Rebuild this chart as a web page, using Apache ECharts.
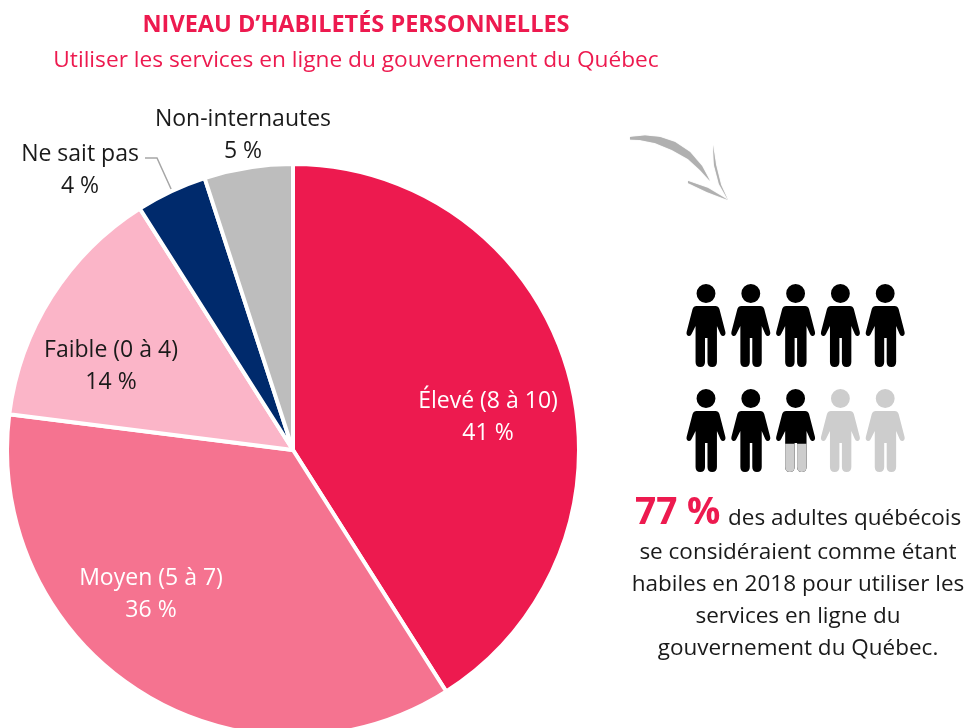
<!DOCTYPE html>
<html>
<head>
<meta charset="utf-8">
<title>Niveau d'habiletés personnelles</title>
<script src="https://cdn.jsdelivr.net/npm/echarts@6/dist/echarts.min.js"></script>
<style>
    html, body { margin: 0; padding: 0; background: #fff; overflow: hidden; }
    #chart { width: 967px; height: 728px; }
</style>
</head>
<body>
<div id="chart"></div>
<script>
const categories = ['Élevé (8 à 10)', 'Moyen (5 à 7)', 'Faible (0 à 4)', 'Ne sait pas', 'Non-internautes'];
const values = [41, 36, 14, 4, 5];
const sliceColors = ['#ed1a4f', '#f57390', '#fbb5c8', '#002a6c', '#bdbdbd'];
const labelColors = ['#fff', '#fff', '#1a1a1a', '#1a1a1a', '#1a1a1a'];
const labelCenters = [[488, 417], [151, 594], [111, 366], [80, 170], [243, 135]];

// pictogram: black figures, grey laid over them and filled from the feet up
const peopleSlots = ['1', '2', '3', '4', '5'];
const peopleRowOne = [1, 1, 1, 1, 1];
const peopleRowTwo = [1, 1, 1, null, null];
const peopleGreyRowTwo = [null, null, 0.34, 1, 1];

const pink = '#ed1a4f';
const font = '"Open Sans", sans-serif';
const personPath = 'path://M19.5 0A9.5 9.5 0 1 1 19.5 19A9.5 9.5 0 1 1 19.5 0Z' +
    'M10 22H29Q32 22 33 25L39 48Q39.6 51 37 52Q35 52.5 34 50L30.5 42V78Q30.5 83 25.7 83Q21 83 21 78V54H18.5V78Q18.5 83 13.7 83Q9 83 9 78V42L5 50Q4 52.5 2 52Q-0.6 51 0 48L6 25Q7 22 10 22Z';

function personSeries(name, data, color, gridIndex) {
    return {
        name: name,
        type: 'pictorialBar',
        xAxisIndex: gridIndex,
        yAxisIndex: gridIndex,
        silent: true,
        symbol: personPath,
        symbolSize: [39, 83],
        symbolPosition: 'start',
        symbolClip: true,
        symbolBoundingData: 1,
        barWidth: 40,
        itemStyle: { color: color },
        data: data
    };
}

function textLine(x, y, text, size) {
    return {
        type: 'text',
        x: x,
        y: y,
        style: {
            text: text,
            fill: '#1a1a1a',
            font: size + 'px ' + font,
            textAlign: 'center',
            textVerticalAlign: 'middle'
        }
    };
}

function arrowStroke(points) {
    return {
        type: 'polygon',
        shape: { points: points },
        style: { fill: '#b0b0b0', shadowBlur: 1, shadowColor: '#ccc' }
    };
}

const chart = echarts.init(document.getElementById('chart'));
chart.setOption({
    animation: false,
    title: [
        {
            text: 'NIVEAU D’HABILETÉS PERSONNELLES',
            left: 351,
            top: 8,
            textAlign: 'center',
            textStyle: { color: pink, fontFamily: font, fontSize: 23.5, fontWeight: 'bold' }
        },
        {
            text: 'Utiliser les services en ligne du gouvernement du Québec',
            left: 351,
            top: 44,
            textAlign: 'center',
            textStyle: { color: pink, fontFamily: font, fontSize: 22.7, fontWeight: 'normal' }
        }
    ],
    grid: [
        { left: 683.6, top: 284, width: 224, height: 83 },
        { left: 683.6, top: 389, width: 224, height: 83 }
    ],
    xAxis: [
        { type: 'category', gridIndex: 0, data: peopleSlots, show: false },
        { type: 'category', gridIndex: 1, data: peopleSlots, show: false }
    ],
    yAxis: [
        { type: 'value', gridIndex: 0, min: 0, max: 1, show: false },
        { type: 'value', gridIndex: 1, min: 0, max: 1, show: false }
    ],
    series: [
        {
            type: 'pie',
            center: [293, 450],
            radius: [0, 286],
            startAngle: 90,
            clockwise: true,
            silent: true,
            data: categories.map((name, i) => ({
                name: name,
                value: values[i],
                itemStyle: { color: sliceColors[i] },
                label: { color: labelColors[i] }
            })),
            itemStyle: { borderColor: '#fff', borderWidth: 4 },
            label: {
                show: true,
                position: 'inside',
                formatter: '{b}\n{c} %',
                fontFamily: font,
                fontSize: 23,
                lineHeight: 32
            },
            labelLine: { show: false },
            labelLayout: params => ({
                x: labelCenters[params.dataIndex][0],
                y: labelCenters[params.dataIndex][1],
                align: 'center',
                verticalAlign: 'middle'
            })
        },
        personSeries('row1', peopleRowOne, '#000', 0),
        personSeries('row2', peopleRowTwo, '#000', 1),
        personSeries('row2grey', peopleGreyRowTwo, '#cdcdcd', 1)
    ],
    graphic: [
        // leader line of the "Ne sait pas" label
        {
            type: 'polyline',
            shape: { points: [[145, 158], [157, 158], [172, 191]] },
            style: { stroke: '#a6a6a6', lineWidth: 1.5, fill: null }
        },
        // hand drawn arrow
        arrowStroke([[630, 137], [645, 135.5], [660, 137], [675, 142], [690, 152], [702, 166], [710, 181], [700, 170], [688, 159], [672, 150], [655, 143], [640, 140], [630, 139.5]]),
        arrowStroke([[713, 145], [716, 165], [721, 185], [728, 200], [719, 184], [714, 165]]),
        arrowStroke([[688, 181], [708, 188], [728, 200], [707, 192], [688, 183]]),
        // right hand caption
        {
            type: 'text',
            x: 635,
            y: 513,
            style: {
                text: '77 %',
                fill: pink,
                font: 'bold 37px ' + font,
                textVerticalAlign: 'middle'
            }
        },
        {
            type: 'text',
            x: 728,
            y: 519,
            style: {
                text: 'des adultes québécois',
                fill: '#1a1a1a',
                font: '22.5px ' + font,
                textVerticalAlign: 'middle'
            }
        },
        textLine(798, 553, 'se considéraient comme étant', 22.5),
        textLine(798, 585, 'habiles en 2018 pour utiliser les', 22.5),
        textLine(798, 617, 'services en ligne du', 22.5),
        textLine(798, 649, 'gouvernement du Québec.', 22.5)
    ]
});
</script>
</body>
</html>
